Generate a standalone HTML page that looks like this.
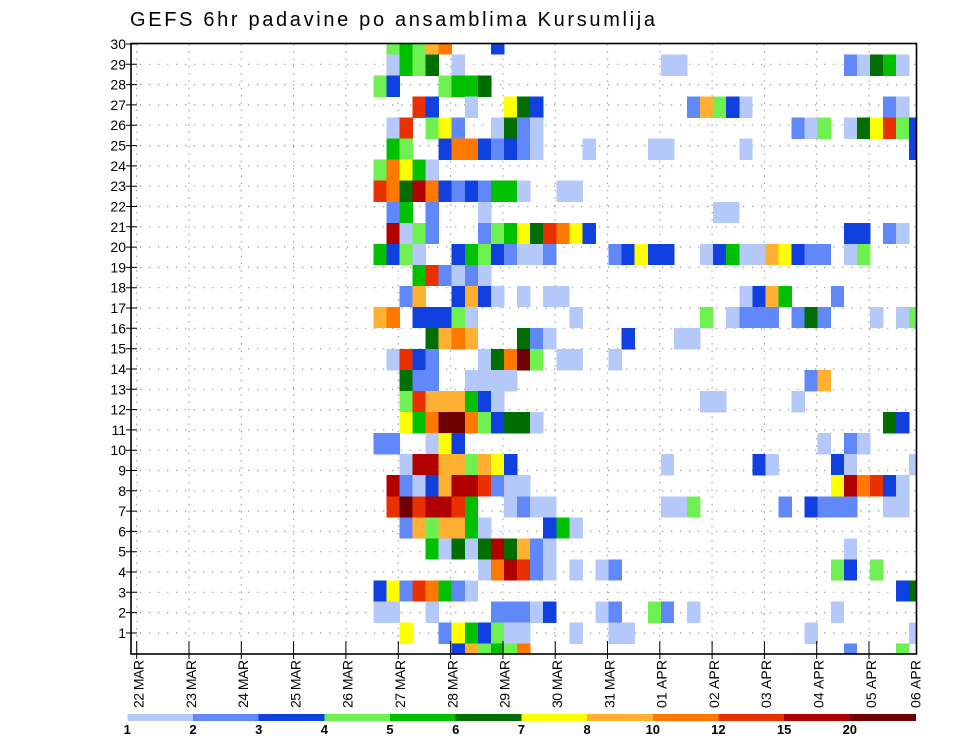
<!DOCTYPE html>
<html><head><meta charset="utf-8"><style>
html,body{margin:0;padding:0;background:#fff}
svg{display:block}
.a{fill:#b4c8fa}.b{fill:#6088f8}.c{fill:#1040e0}.d{fill:#6ef050}.e{fill:#00c000}.f{fill:#006e00}
.g{fill:#ffff00}.h{fill:#ffb030}.i{fill:#ff7800}.j{fill:#e83000}.k{fill:#b00000}.l{fill:#6e0000}
text{font-family:"Liberation Sans",sans-serif;fill:#000}
</style></head><body>
<svg width="960" height="742" viewBox="0 0 960 742" xmlns="http://www.w3.org/2000/svg">
<rect width="960" height="742" fill="#fff"/>
<text x="130" y="26" font-size="20" textLength="525" lengthAdjust="spacing">GEFS 6hr padavine po ansamblima Kursumlija</text>

<!-- grid -->
<g stroke="#999" stroke-width="1.2" stroke-dasharray="1.3 7.7" fill="none">
<path d="M131 64.3H917M131 84.6H917M131 104.9H917M131 125.2H917M131 145.6H917M131 165.9H917M131 186.2H917M131 206.5H917M131 226.8H917M131 247.1H917M131 267.4H917M131 287.7H917M131 308H917M131 328.3H917M131 348.7H917M131 369H917M131 389.3H917M131 409.6H917M131 429.9H917M131 450.2H917M131 470.5H917M131 490.8H917M131 511.1H917M131 531.4H917M131 551.7H917M131 572H917M131 592.3H917M131 612.6H917M131 633H917"/>
</g>
<g stroke="#999" stroke-width="1.2" stroke-dasharray="1.3 6" fill="none">
<path d="M136.7 44V654M189 44V654M241.3 44V654M293.6 44V654M345.9 44V654M398.3 44V654M450.6 44V654M502.9 44V654M555.2 44V654M607.5 44V654M659.8 44V654M712.1 44V654M764.4 44V654M816.7 44V654M869 44V654"/>
</g>

<!-- cells -->
<g shape-rendering="crispEdges">
<g transform="translate(0,44)">
<rect class="d" x="386.4" width="13.4" height="10.5"/><rect class="e" x="399.4" width="13.4" height="10.5"/><rect class="d" x="412.5" width="13.4" height="10.5"/><rect class="h" x="425.6" width="13.4" height="10.5"/><rect class="i" x="438.7" width="13.4" height="10.5"/><rect class="c" x="490.9" width="13.4" height="10.5"/>
</g>
<g transform="translate(0,54.5)">
<rect class="a" x="386.4" width="13.4" height="21.3"/><rect class="e" x="399.4" width="13.4" height="21.3"/><rect class="d" x="412.5" width="13.4" height="21.3"/><rect class="f" x="425.6" width="13.4" height="21.3"/><rect class="a" x="451.7" width="13.4" height="21.3"/><rect class="a" x="660.8" width="26.5" height="21.3"/><rect class="b" x="843.8" width="13.4" height="21.3"/><rect class="a" x="856.9" width="13.4" height="21.3"/><rect class="f" x="870" width="13.4" height="21.3"/><rect class="e" x="883" width="13.4" height="21.3"/><rect class="a" x="896.1" width="13.4" height="21.3"/>
</g>
<g transform="translate(0,75.5)">
<rect class="d" x="373.3" width="13.4" height="21.3"/><rect class="c" x="386.4" width="13.4" height="21.3"/><rect class="d" x="438.7" width="13.4" height="21.3"/><rect class="e" x="451.7" width="26.5" height="21.3"/><rect class="f" x="477.9" width="13.4" height="21.3"/>
</g>
<g transform="translate(0,96.6)">
<rect class="j" x="412.5" width="13.4" height="21.3"/><rect class="c" x="425.6" width="13.4" height="21.3"/><rect class="a" x="464.8" width="13.4" height="21.3"/><rect class="g" x="504" width="13.4" height="21.3"/><rect class="f" x="517.1" width="13.4" height="21.3"/><rect class="c" x="530.1" width="13.4" height="21.3"/><rect class="b" x="687" width="13.4" height="21.3"/><rect class="h" x="700.1" width="13.4" height="21.3"/><rect class="d" x="713.1" width="13.4" height="21.3"/><rect class="c" x="726.2" width="13.4" height="21.3"/><rect class="a" x="739.3" width="13.4" height="21.3"/><rect class="b" x="883" width="13.4" height="21.3"/><rect class="a" x="896.1" width="13.4" height="21.3"/>
</g>
<g transform="translate(0,117.6)">
<rect class="a" x="386.4" width="13.4" height="21.3"/><rect class="j" x="399.4" width="13.4" height="21.3"/><rect class="d" x="425.6" width="13.4" height="21.3"/><rect class="g" x="438.7" width="13.4" height="21.3"/><rect class="b" x="451.7" width="13.4" height="21.3"/><rect class="a" x="490.9" width="13.4" height="21.3"/><rect class="f" x="504" width="13.4" height="21.3"/><rect class="b" x="517.1" width="13.4" height="21.3"/><rect class="a" x="530.1" width="13.4" height="21.3"/><rect class="b" x="791.5" width="13.4" height="21.3"/><rect class="a" x="804.6" width="13.4" height="21.3"/><rect class="d" x="817.7" width="13.4" height="21.3"/><rect class="a" x="843.8" width="13.4" height="21.3"/><rect class="f" x="856.9" width="13.4" height="21.3"/><rect class="g" x="870" width="13.4" height="21.3"/><rect class="j" x="883" width="13.4" height="21.3"/><rect class="d" x="896.1" width="13.4" height="21.3"/><rect class="c" x="909.2" width="7.8" height="21.3"/>
</g>
<g transform="translate(0,138.6)">
<rect class="e" x="386.4" width="13.4" height="21.3"/><rect class="d" x="399.4" width="13.4" height="21.3"/><rect class="c" x="438.7" width="13.4" height="21.3"/><rect class="i" x="451.7" width="26.5" height="21.3"/><rect class="c" x="477.9" width="13.4" height="21.3"/><rect class="b" x="490.9" width="13.4" height="21.3"/><rect class="c" x="504" width="13.4" height="21.3"/><rect class="b" x="517.1" width="13.4" height="21.3"/><rect class="a" x="530.1" width="13.4" height="21.3"/><rect class="a" x="582.4" width="13.4" height="21.3"/><rect class="a" x="647.8" width="26.5" height="21.3"/><rect class="a" x="739.3" width="13.4" height="21.3"/><rect class="c" x="909.2" width="7.8" height="21.3"/>
</g>
<g transform="translate(0,159.7)">
<rect class="d" x="373.3" width="13.4" height="21.3"/><rect class="i" x="386.4" width="13.4" height="21.3"/><rect class="g" x="399.4" width="13.4" height="21.3"/><rect class="e" x="412.5" width="13.4" height="21.3"/><rect class="a" x="425.6" width="13.4" height="21.3"/>
</g>
<g transform="translate(0,180.7)">
<rect class="j" x="373.3" width="13.4" height="21.3"/><rect class="i" x="386.4" width="13.4" height="21.3"/><rect class="f" x="399.4" width="13.4" height="21.3"/><rect class="k" x="412.5" width="13.4" height="21.3"/><rect class="i" x="425.6" width="13.4" height="21.3"/><rect class="c" x="438.7" width="13.4" height="21.3"/><rect class="b" x="451.7" width="13.4" height="21.3"/><rect class="c" x="464.8" width="13.4" height="21.3"/><rect class="b" x="477.9" width="13.4" height="21.3"/><rect class="e" x="490.9" width="26.5" height="21.3"/><rect class="a" x="517.1" width="13.4" height="21.3"/><rect class="a" x="556.3" width="26.5" height="21.3"/>
</g>
<g transform="translate(0,201.8)">
<rect class="b" x="386.4" width="13.4" height="21.3"/><rect class="e" x="399.4" width="13.4" height="21.3"/><rect class="b" x="425.6" width="13.4" height="21.3"/><rect class="a" x="477.9" width="13.4" height="21.3"/><rect class="a" x="713.1" width="26.5" height="21.3"/>
</g>
<g transform="translate(0,222.8)">
<rect class="k" x="386.4" width="13.4" height="21.3"/><rect class="a" x="399.4" width="13.4" height="21.3"/><rect class="d" x="412.5" width="13.4" height="21.3"/><rect class="b" x="425.6" width="13.4" height="21.3"/><rect class="b" x="477.9" width="13.4" height="21.3"/><rect class="d" x="490.9" width="13.4" height="21.3"/><rect class="e" x="504" width="13.4" height="21.3"/><rect class="g" x="517.1" width="13.4" height="21.3"/><rect class="f" x="530.1" width="13.4" height="21.3"/><rect class="j" x="543.2" width="13.4" height="21.3"/><rect class="i" x="556.3" width="13.4" height="21.3"/><rect class="g" x="569.4" width="13.4" height="21.3"/><rect class="c" x="582.4" width="13.4" height="21.3"/><rect class="c" x="843.8" width="26.5" height="21.3"/><rect class="b" x="883" width="13.4" height="21.3"/><rect class="a" x="896.1" width="13.4" height="21.3"/>
</g>
<g transform="translate(0,243.8)">
<rect class="e" x="373.3" width="13.4" height="21.3"/><rect class="c" x="386.4" width="13.4" height="21.3"/><rect class="d" x="399.4" width="13.4" height="21.3"/><rect class="a" x="412.5" width="13.4" height="21.3"/><rect class="c" x="451.7" width="13.4" height="21.3"/><rect class="e" x="464.8" width="13.4" height="21.3"/><rect class="d" x="477.9" width="13.4" height="21.3"/><rect class="c" x="490.9" width="13.4" height="21.3"/><rect class="b" x="504" width="13.4" height="21.3"/><rect class="a" x="517.1" width="26.5" height="21.3"/><rect class="b" x="543.2" width="13.4" height="21.3"/><rect class="b" x="608.6" width="13.4" height="21.3"/><rect class="c" x="621.6" width="13.4" height="21.3"/><rect class="g" x="634.7" width="13.4" height="21.3"/><rect class="c" x="647.8" width="26.5" height="21.3"/><rect class="a" x="700.1" width="13.4" height="21.3"/><rect class="c" x="713.1" width="13.4" height="21.3"/><rect class="e" x="726.2" width="13.4" height="21.3"/><rect class="a" x="739.3" width="26.5" height="21.3"/><rect class="h" x="765.4" width="13.4" height="21.3"/><rect class="g" x="778.5" width="13.4" height="21.3"/><rect class="c" x="791.5" width="13.4" height="21.3"/><rect class="b" x="804.6" width="26.5" height="21.3"/><rect class="a" x="843.8" width="13.4" height="21.3"/><rect class="d" x="856.9" width="13.4" height="21.3"/>
</g>
<g transform="translate(0,264.9)">
<rect class="e" x="412.5" width="13.4" height="21.3"/><rect class="j" x="425.6" width="13.4" height="21.3"/><rect class="b" x="438.7" width="13.4" height="21.3"/><rect class="a" x="451.7" width="13.4" height="21.3"/><rect class="b" x="464.8" width="13.4" height="21.3"/><rect class="a" x="477.9" width="13.4" height="21.3"/>
</g>
<g transform="translate(0,285.9)">
<rect class="b" x="399.4" width="13.4" height="21.3"/><rect class="h" x="412.5" width="13.4" height="21.3"/><rect class="c" x="451.7" width="13.4" height="21.3"/><rect class="h" x="464.8" width="13.4" height="21.3"/><rect class="c" x="477.9" width="13.4" height="21.3"/><rect class="a" x="490.9" width="13.4" height="21.3"/><rect class="a" x="517.1" width="13.4" height="21.3"/><rect class="a" x="543.2" width="26.5" height="21.3"/><rect class="a" x="739.3" width="13.4" height="21.3"/><rect class="c" x="752.3" width="13.4" height="21.3"/><rect class="h" x="765.4" width="13.4" height="21.3"/><rect class="e" x="778.5" width="13.4" height="21.3"/><rect class="b" x="830.8" width="13.4" height="21.3"/>
</g>
<g transform="translate(0,306.9)">
<rect class="h" x="373.3" width="13.4" height="21.3"/><rect class="i" x="386.4" width="13.4" height="21.3"/><rect class="c" x="412.5" width="39.6" height="21.3"/><rect class="d" x="451.7" width="13.4" height="21.3"/><rect class="a" x="464.8" width="13.4" height="21.3"/><rect class="a" x="569.4" width="13.4" height="21.3"/><rect class="d" x="700.1" width="13.4" height="21.3"/><rect class="a" x="726.2" width="13.4" height="21.3"/><rect class="b" x="739.3" width="39.6" height="21.3"/><rect class="b" x="791.5" width="13.4" height="21.3"/><rect class="f" x="804.6" width="13.4" height="21.3"/><rect class="b" x="817.7" width="13.4" height="21.3"/><rect class="a" x="870" width="13.4" height="21.3"/><rect class="a" x="896.1" width="13.4" height="21.3"/><rect class="d" x="909.2" width="7.8" height="21.3"/>
</g>
<g transform="translate(0,328)">
<rect class="f" x="425.6" width="13.4" height="21.3"/><rect class="h" x="438.7" width="13.4" height="21.3"/><rect class="i" x="451.7" width="13.4" height="21.3"/><rect class="h" x="464.8" width="13.4" height="21.3"/><rect class="f" x="517.1" width="13.4" height="21.3"/><rect class="b" x="530.1" width="13.4" height="21.3"/><rect class="a" x="543.2" width="13.4" height="21.3"/><rect class="c" x="621.6" width="13.4" height="21.3"/><rect class="a" x="673.9" width="26.5" height="21.3"/>
</g>
<g transform="translate(0,349)">
<rect class="a" x="386.4" width="13.4" height="21.3"/><rect class="j" x="399.4" width="13.4" height="21.3"/><rect class="c" x="412.5" width="13.4" height="21.3"/><rect class="b" x="425.6" width="13.4" height="21.3"/><rect class="a" x="477.9" width="13.4" height="21.3"/><rect class="f" x="490.9" width="13.4" height="21.3"/><rect class="i" x="504" width="13.4" height="21.3"/><rect class="l" x="517.1" width="13.4" height="21.3"/><rect class="d" x="530.1" width="13.4" height="21.3"/><rect class="a" x="556.3" width="26.5" height="21.3"/><rect class="a" x="608.6" width="13.4" height="21.3"/>
</g>
<g transform="translate(0,370)">
<rect class="f" x="399.4" width="13.4" height="21.3"/><rect class="b" x="412.5" width="26.5" height="21.3"/><rect class="a" x="464.8" width="52.6" height="21.3"/><rect class="b" x="804.6" width="13.4" height="21.3"/><rect class="h" x="817.7" width="13.4" height="21.3"/>
</g>
<g transform="translate(0,391.1)">
<rect class="d" x="399.4" width="13.4" height="21.3"/><rect class="j" x="412.5" width="13.4" height="21.3"/><rect class="h" x="425.6" width="39.6" height="21.3"/><rect class="e" x="464.8" width="13.4" height="21.3"/><rect class="c" x="477.9" width="13.4" height="21.3"/><rect class="a" x="490.9" width="13.4" height="21.3"/><rect class="a" x="700.1" width="26.5" height="21.3"/><rect class="a" x="791.5" width="13.4" height="21.3"/>
</g>
<g transform="translate(0,412.1)">
<rect class="g" x="399.4" width="13.4" height="21.3"/><rect class="e" x="412.5" width="13.4" height="21.3"/><rect class="i" x="425.6" width="13.4" height="21.3"/><rect class="l" x="438.7" width="26.5" height="21.3"/><rect class="i" x="464.8" width="13.4" height="21.3"/><rect class="d" x="477.9" width="13.4" height="21.3"/><rect class="c" x="490.9" width="13.4" height="21.3"/><rect class="f" x="504" width="26.5" height="21.3"/><rect class="a" x="530.1" width="13.4" height="21.3"/><rect class="f" x="883" width="13.4" height="21.3"/><rect class="c" x="896.1" width="13.4" height="21.3"/>
</g>
<g transform="translate(0,433.2)">
<rect class="b" x="373.3" width="26.5" height="21.3"/><rect class="a" x="425.6" width="13.4" height="21.3"/><rect class="g" x="438.7" width="13.4" height="21.3"/><rect class="c" x="451.7" width="13.4" height="21.3"/><rect class="a" x="817.7" width="13.4" height="21.3"/><rect class="b" x="843.8" width="13.4" height="21.3"/><rect class="a" x="856.9" width="13.4" height="21.3"/>
</g>
<g transform="translate(0,454.2)">
<rect class="a" x="399.4" width="13.4" height="21.3"/><rect class="k" x="412.5" width="26.5" height="21.3"/><rect class="h" x="438.7" width="26.5" height="21.3"/><rect class="d" x="464.8" width="13.4" height="21.3"/><rect class="h" x="477.9" width="13.4" height="21.3"/><rect class="g" x="490.9" width="13.4" height="21.3"/><rect class="c" x="504" width="13.4" height="21.3"/><rect class="a" x="660.8" width="13.4" height="21.3"/><rect class="c" x="752.3" width="13.4" height="21.3"/><rect class="a" x="765.4" width="13.4" height="21.3"/><rect class="c" x="830.8" width="13.4" height="21.3"/><rect class="a" x="843.8" width="13.4" height="21.3"/><rect class="a" x="909.2" width="7.8" height="21.3"/>
</g>
<g transform="translate(0,475.2)">
<rect class="k" x="386.4" width="13.4" height="21.3"/><rect class="b" x="399.4" width="13.4" height="21.3"/><rect class="a" x="412.5" width="13.4" height="21.3"/><rect class="c" x="425.6" width="13.4" height="21.3"/><rect class="h" x="438.7" width="13.4" height="21.3"/><rect class="k" x="451.7" width="26.5" height="21.3"/><rect class="j" x="477.9" width="13.4" height="21.3"/><rect class="b" x="490.9" width="13.4" height="21.3"/><rect class="a" x="504" width="26.5" height="21.3"/><rect class="g" x="830.8" width="13.4" height="21.3"/><rect class="k" x="843.8" width="13.4" height="21.3"/><rect class="i" x="856.9" width="13.4" height="21.3"/><rect class="j" x="870" width="13.4" height="21.3"/><rect class="c" x="883" width="13.4" height="21.3"/><rect class="a" x="896.1" width="13.4" height="21.3"/>
</g>
<g transform="translate(0,496.3)">
<rect class="j" x="386.4" width="13.4" height="21.3"/><rect class="l" x="399.4" width="13.4" height="21.3"/><rect class="j" x="412.5" width="13.4" height="21.3"/><rect class="k" x="425.6" width="26.5" height="21.3"/><rect class="j" x="451.7" width="13.4" height="21.3"/><rect class="e" x="464.8" width="13.4" height="21.3"/><rect class="a" x="504" width="13.4" height="21.3"/><rect class="b" x="517.1" width="13.4" height="21.3"/><rect class="a" x="530.1" width="26.5" height="21.3"/><rect class="a" x="660.8" width="26.5" height="21.3"/><rect class="d" x="687" width="13.4" height="21.3"/><rect class="b" x="778.5" width="13.4" height="21.3"/><rect class="c" x="804.6" width="13.4" height="21.3"/><rect class="b" x="817.7" width="39.6" height="21.3"/><rect class="a" x="883" width="26.5" height="21.3"/>
</g>
<g transform="translate(0,517.3)">
<rect class="b" x="399.4" width="13.4" height="21.3"/><rect class="h" x="412.5" width="13.4" height="21.3"/><rect class="d" x="425.6" width="13.4" height="21.3"/><rect class="h" x="438.7" width="26.5" height="21.3"/><rect class="e" x="464.8" width="13.4" height="21.3"/><rect class="a" x="477.9" width="13.4" height="21.3"/><rect class="c" x="543.2" width="13.4" height="21.3"/><rect class="e" x="556.3" width="13.4" height="21.3"/><rect class="a" x="569.4" width="13.4" height="21.3"/>
</g>
<g transform="translate(0,538.3)">
<rect class="e" x="425.6" width="13.4" height="21.3"/><rect class="a" x="438.7" width="13.4" height="21.3"/><rect class="f" x="451.7" width="13.4" height="21.3"/><rect class="a" x="464.8" width="13.4" height="21.3"/><rect class="f" x="477.9" width="13.4" height="21.3"/><rect class="k" x="490.9" width="13.4" height="21.3"/><rect class="f" x="504" width="13.4" height="21.3"/><rect class="h" x="517.1" width="13.4" height="21.3"/><rect class="b" x="530.1" width="13.4" height="21.3"/><rect class="a" x="543.2" width="13.4" height="21.3"/><rect class="a" x="843.8" width="13.4" height="21.3"/>
</g>
<g transform="translate(0,559.4)">
<rect class="a" x="477.9" width="13.4" height="21.3"/><rect class="i" x="490.9" width="13.4" height="21.3"/><rect class="k" x="504" width="13.4" height="21.3"/><rect class="j" x="517.1" width="13.4" height="21.3"/><rect class="b" x="530.1" width="13.4" height="21.3"/><rect class="a" x="543.2" width="13.4" height="21.3"/><rect class="a" x="569.4" width="13.4" height="21.3"/><rect class="a" x="595.5" width="13.4" height="21.3"/><rect class="b" x="608.6" width="13.4" height="21.3"/><rect class="d" x="830.8" width="13.4" height="21.3"/><rect class="c" x="843.8" width="13.4" height="21.3"/><rect class="d" x="870" width="13.4" height="21.3"/>
</g>
<g transform="translate(0,580.4)">
<rect class="c" x="373.3" width="13.4" height="21.3"/><rect class="g" x="386.4" width="13.4" height="21.3"/><rect class="b" x="399.4" width="13.4" height="21.3"/><rect class="j" x="412.5" width="13.4" height="21.3"/><rect class="i" x="425.6" width="13.4" height="21.3"/><rect class="e" x="438.7" width="13.4" height="21.3"/><rect class="b" x="451.7" width="13.4" height="21.3"/><rect class="a" x="464.8" width="13.4" height="21.3"/><rect class="c" x="896.1" width="13.4" height="21.3"/><rect class="f" x="909.2" width="7.8" height="21.3"/>
</g>
<g transform="translate(0,601.5)">
<rect class="a" x="373.3" width="26.5" height="21.3"/><rect class="a" x="425.6" width="13.4" height="21.3"/><rect class="b" x="490.9" width="39.6" height="21.3"/><rect class="a" x="530.1" width="13.4" height="21.3"/><rect class="c" x="543.2" width="13.4" height="21.3"/><rect class="a" x="595.5" width="13.4" height="21.3"/><rect class="b" x="608.6" width="13.4" height="21.3"/><rect class="d" x="647.8" width="13.4" height="21.3"/><rect class="b" x="660.8" width="13.4" height="21.3"/><rect class="a" x="687" width="13.4" height="21.3"/><rect class="a" x="830.8" width="13.4" height="21.3"/>
</g>
<g transform="translate(0,622.5)">
<rect class="g" x="399.4" width="13.4" height="21.3"/><rect class="b" x="438.7" width="13.4" height="21.3"/><rect class="g" x="451.7" width="13.4" height="21.3"/><rect class="e" x="464.8" width="13.4" height="21.3"/><rect class="c" x="477.9" width="13.4" height="21.3"/><rect class="d" x="490.9" width="13.4" height="21.3"/><rect class="a" x="504" width="26.5" height="21.3"/><rect class="a" x="569.4" width="13.4" height="21.3"/><rect class="a" x="608.6" width="26.5" height="21.3"/><rect class="a" x="804.6" width="13.4" height="21.3"/><rect class="a" x="909.2" width="7.8" height="21.3"/>
</g>
<g transform="translate(0,643.5)">
<rect class="c" x="451.7" width="13.4" height="10.5"/><rect class="h" x="464.8" width="13.4" height="10.5"/><rect class="d" x="477.9" width="13.4" height="10.5"/><rect class="e" x="490.9" width="13.4" height="10.5"/><rect class="d" x="504" width="13.4" height="10.5"/><rect class="i" x="517.1" width="13.4" height="10.5"/><rect class="b" x="843.8" width="13.4" height="10.5"/><rect class="d" x="896.1" width="13.4" height="10.5"/>
</g>
</g>

<!-- axes frame -->
<rect x="131" y="43.5" width="785.5" height="610.5" fill="none" stroke="#000" stroke-width="1.6"/>
<!-- y ticks -->
<g stroke="#000" stroke-width="1">
<path d="M126 44H137M126 64.3H137M126 84.6H137M126 104.9H137M126 125.2H137M126 145.6H137M126 165.9H137M126 186.2H137M126 206.5H137M126 226.8H137M126 247.1H137M126 267.4H137M126 287.7H137M126 308H137M126 328.3H137M126 348.7H137M126 369H137M126 389.3H137M126 409.6H137M126 429.9H137M126 450.2H137M126 470.5H137M126 490.8H137M126 511.1H137M126 531.4H137M126 551.7H137M126 572H137M126 592.3H137M126 612.6H137M126 633H137"/>
<path d="M136.7 641V659M189 641V659M241.3 641V659M293.6 641V659M345.9 641V659M398.3 641V659M450.6 641V659M502.9 641V659M555.2 641V659M607.5 641V659M659.8 641V659M712.1 641V659M764.4 641V659M816.7 641V659M869 641V659"/>
</g>
<g font-size="14" text-anchor="end">
<text x="126" y="49">30</text><text x="126" y="69.3">29</text><text x="126" y="89.6">28</text><text x="126" y="109.9">27</text><text x="126" y="130.2">26</text><text x="126" y="150.6">25</text><text x="126" y="170.9">24</text><text x="126" y="191.2">23</text><text x="126" y="211.5">22</text><text x="126" y="231.8">21</text><text x="126" y="252.1">20</text><text x="126" y="272.4">19</text><text x="126" y="292.7">18</text><text x="126" y="313">17</text><text x="126" y="333.3">16</text><text x="126" y="353.7">15</text><text x="126" y="374">14</text><text x="126" y="394.3">13</text><text x="126" y="414.6">12</text><text x="126" y="434.9">11</text><text x="126" y="455.2">10</text><text x="126" y="475.5">9</text><text x="126" y="495.8">8</text><text x="126" y="516.1">7</text><text x="126" y="536.4">6</text><text x="126" y="556.7">5</text><text x="126" y="577">4</text><text x="126" y="597.3">3</text><text x="126" y="617.6">2</text><text x="126" y="638">1</text>
</g>
<!-- x labels -->
<g font-size="14">
<text transform="translate(143.5,708) rotate(-90)" textLength="48" lengthAdjust="spacing">22  MAR</text>
<text transform="translate(195.8,708) rotate(-90)" textLength="48" lengthAdjust="spacing">23  MAR</text>
<text transform="translate(248.1,708) rotate(-90)" textLength="48" lengthAdjust="spacing">24  MAR</text>
<text transform="translate(300.4,708) rotate(-90)" textLength="48" lengthAdjust="spacing">25  MAR</text>
<text transform="translate(352.7,708) rotate(-90)" textLength="48" lengthAdjust="spacing">26  MAR</text>
<text transform="translate(405.1,708) rotate(-90)" textLength="48" lengthAdjust="spacing">27  MAR</text>
<text transform="translate(457.4,708) rotate(-90)" textLength="48" lengthAdjust="spacing">28  MAR</text>
<text transform="translate(509.7,708) rotate(-90)" textLength="48" lengthAdjust="spacing">29  MAR</text>
<text transform="translate(562,708) rotate(-90)" textLength="48" lengthAdjust="spacing">30  MAR</text>
<text transform="translate(614.3,708) rotate(-90)" textLength="48" lengthAdjust="spacing">31  MAR</text>
<text transform="translate(666.6,708) rotate(-90)" textLength="48" lengthAdjust="spacing">01  APR</text>
<text transform="translate(718.9,708) rotate(-90)" textLength="48" lengthAdjust="spacing">02  APR</text>
<text transform="translate(771.2,708) rotate(-90)" textLength="48" lengthAdjust="spacing">03  APR</text>
<text transform="translate(823.5,708) rotate(-90)" textLength="48" lengthAdjust="spacing">04  APR</text>
<text transform="translate(875.8,708) rotate(-90)" textLength="48" lengthAdjust="spacing">05  APR</text>
<text transform="translate(920.5,708) rotate(-90)" textLength="48" lengthAdjust="spacing">06  APR</text>
</g>
<!-- colorbar -->
<g shape-rendering="crispEdges">
<rect class="a" x="127.3" y="714" width="65.8" height="7"/>
<rect class="b" x="193" y="714" width="65.8" height="7"/>
<rect class="c" x="258.7" y="714" width="65.8" height="7"/>
<rect class="d" x="324.4" y="714" width="65.8" height="7"/>
<rect class="e" x="390" y="714" width="65.8" height="7"/>
<rect class="f" x="455.7" y="714" width="65.8" height="7"/>
<rect class="g" x="521.4" y="714" width="65.8" height="7"/>
<rect class="h" x="587.1" y="714" width="65.8" height="7"/>
<rect class="i" x="652.8" y="714" width="65.8" height="7"/>
<rect class="j" x="718.4" y="714" width="65.8" height="7"/>
<rect class="k" x="784.1" y="714" width="65.8" height="7"/>
<rect class="l" x="849.8" y="714" width="66" height="7"/>
</g>
<g font-size="13" font-weight="bold" text-anchor="middle">
<text x="127.3" y="734">1</text><text x="193" y="734">2</text><text x="258.7" y="734">3</text><text x="324.4" y="734">4</text><text x="390" y="734">5</text><text x="455.7" y="734">6</text><text x="521.4" y="734">7</text><text x="587.1" y="734">8</text><text x="652.8" y="734">10</text><text x="718.4" y="734">12</text><text x="784.1" y="734">15</text><text x="849.8" y="734">20</text>
</g>
</svg>
</body></html>
